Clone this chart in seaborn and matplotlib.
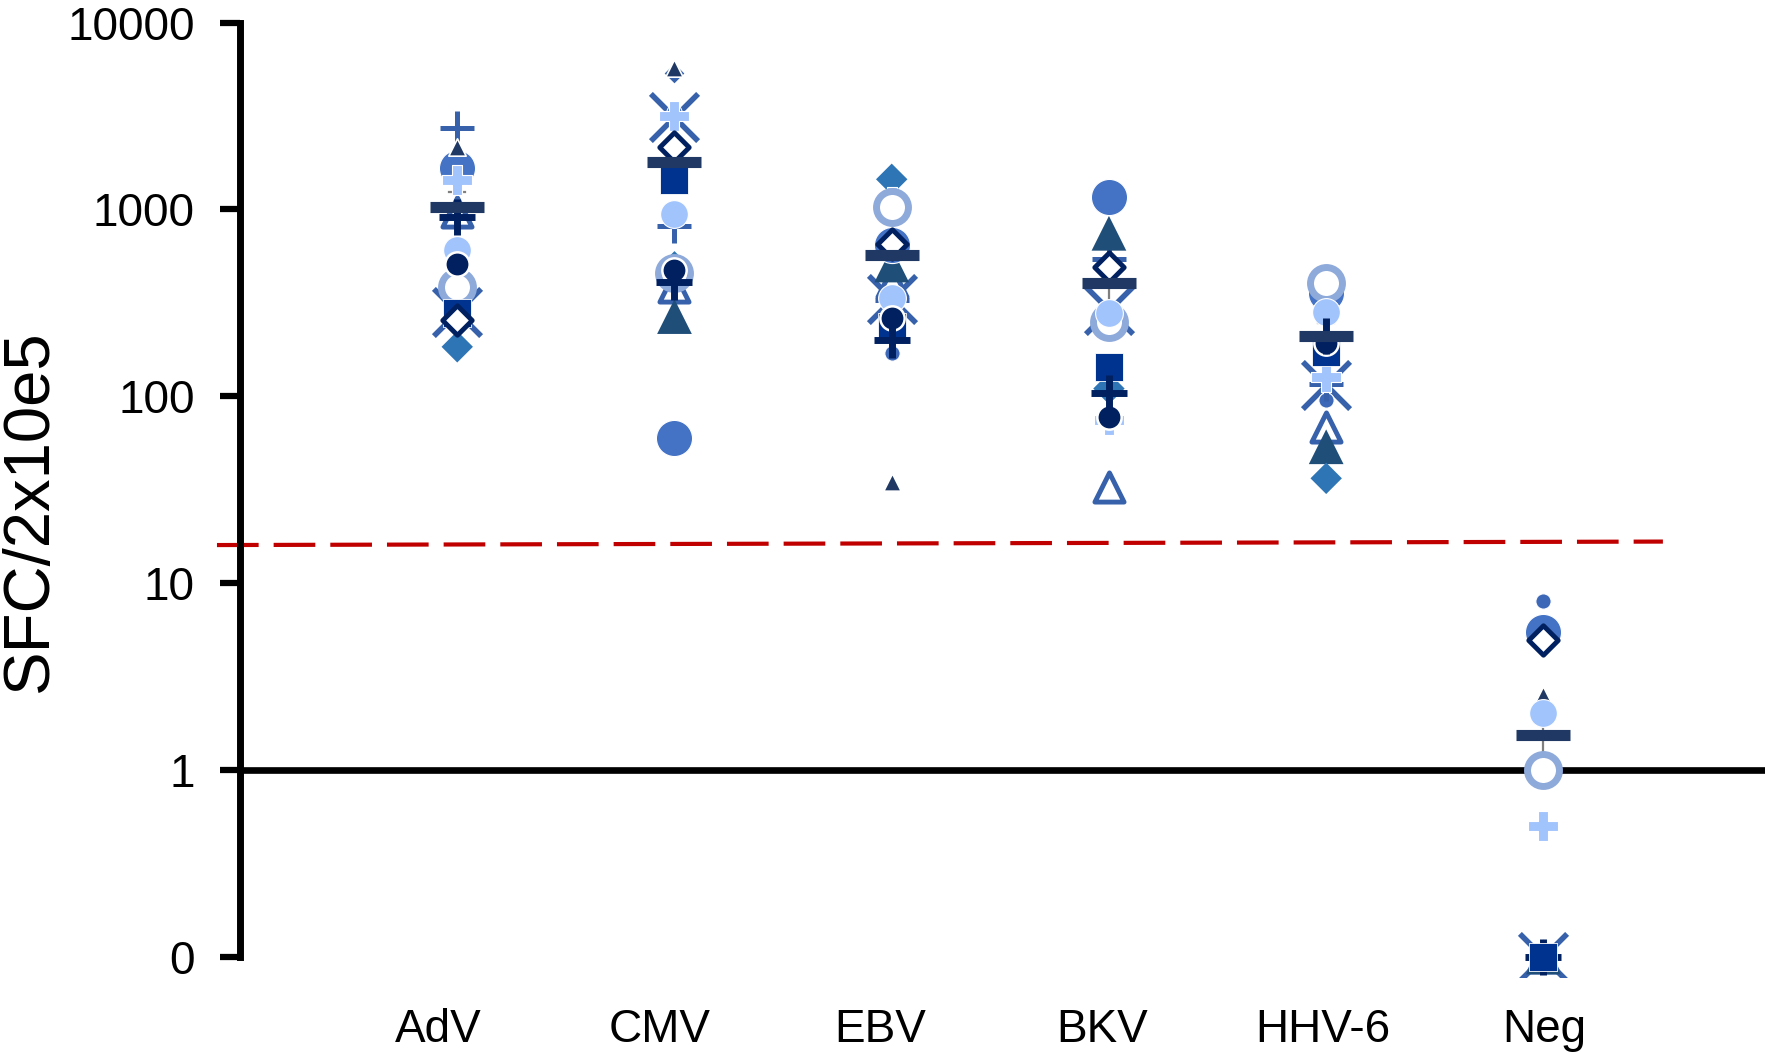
import numpy as np
import pandas as pd
import matplotlib
matplotlib.use("Agg")
import matplotlib.pyplot as plt
import seaborn as sns

# ---- data: ELISpot responses (SFC per 2x10^5 cells), one row per donor ----
viruses = ["AdV", "CMV", "EBV", "BKV", "HHV-6", "Neg"]
nan = np.nan

d_thin_plus     = [2735, 815, 328, 541, 116, 0]
d_small_tri     = [2160, 5690, 34.9, 480, 468, 2.52]
d_big_circle    = [1667, 59.6, 646, 1161, 356, 5.5]
d_light_plus    = [1436, 3160, 1100, 75, 127, 0.5]
d_dark_plus     = [915, 410, 200, 104, 210, 0]
d_light_circle  = [607, 942, 336, 278, 284, 2.01]
d_navy_circle   = [508, 474, 261, 77.8, 192, 0]
d_open_circle   = [385, 455, 1026, 251, 403, 1.0]
d_cross         = [284, 3105, 330, 290, 115, 0]
d_square        = [280, 1436, 235, 144, 173, 0]
d_open_diamond  = [256, 2150, 650, 493, nan, 4.97]
d_diamond       = [184, 493, 1449, 110, 36.4, 0]
d_big_tri       = [nan, 267, 504, 745, 53.7, 0]
d_open_tri      = [968, 385, 410, 32.8, 68.7, 0]
d_small_circle  = [1600, 3300, 170, 1161, 95.5, 8.05]
d_small_diamond = [1550, 5400, 1449, 490, 440, 0]

cutoff_ends = [16.0, 16.7]   # positivity threshold
ytick_vals = [0.1, 1, 10, 100, 1000, 10000]
ytick_labels = ["0", "1", "10", "100", "1000", "10000"]

# drawing order: first entry lies at the bottom
donors = [
    ("cross",         d_cross,         dict(marker="x", size=34, color="#3762ab", edgecolor="#3762ab", linewidth=4)),
    ("small_circle",  d_small_circle,  dict(marker="o", size=11, color="#3d68b8", edgecolor="white", linewidth=0.8)),
    ("thin_plus",     d_thin_plus,     dict(marker="+", size=25, color="#3762ab", edgecolor="#3762ab", linewidth=3.6)),
    ("open_tri",      d_open_tri,      dict(marker="^", size=21, color="white", edgecolor="#3762ab", linewidth=3.5)),
    ("big_tri",       d_big_tri,       dict(marker="^", size=25, color="#1f4e79", edgecolor="none", linewidth=0)),
    ("small_diamond", d_small_diamond, dict(marker="D", size=11, color="#3762ab", edgecolor="white", linewidth=1)),
    ("diamond",       d_diamond,       dict(marker="D", size=16, color="#2e75b6", edgecolor="none", linewidth=0)),
    ("big_circle",    d_big_circle,    dict(marker="o", size=26, color="#4472c4", edgecolor="white", linewidth=0.8)),
    ("small_tri",     d_small_tri,     dict(marker="^", size=12.5, color="#1f3864", edgecolor="white", linewidth=1.2)),
    ("light_plus",    d_light_plus,    dict(marker="P", size=21.5, color="#a2c4fc", edgecolor="white", linewidth=0.8)),
    ("open_circle",   d_open_circle,   dict(marker="o", size=23, color="white", edgecolor="#8eaadb", linewidth=5)),
    ("light_circle",  d_light_circle,  dict(marker="o", size=20, color="#a2c4fc", edgecolor="white", linewidth=0.8)),
    ("square",        d_square,        dict(marker="s", size=19.5, color="#003390", edgecolor="white", linewidth=0.6)),
    ("navy_circle",   d_navy_circle,   dict(marker="o", size=17.5, color="#002060", edgecolor="white", linewidth=1.8)),
    ("dark_plus",     d_dark_plus,     dict(marker="+", size=26.5, color="#002060", edgecolor="#002060", linewidth=5)),
    ("open_diamond",  d_open_diamond,  dict(marker="D", size=15, color="white", edgecolor="#002060", linewidth=3.5)),
]
# on the "0" row the filled square sits above every other symbol
zero_top = "square"

rows = []
for name, vals, _ in donors:
    for v, val in zip(viruses, vals):
        rows.append({"donor": name, "virus": v, "sfc": val})
df = pd.DataFrame(rows).dropna(subset=["sfc"])
# zero counts are shown on the "0" row of the log axis
df["shown"] = df["sfc"].where(df["sfc"] > 0, 0.1)

W, H = 1768, 1052
fig = plt.figure(figsize=(W / 100, H / 100), dpi=100)
# axes run a little below the "0" row so its symbols are not cut
ax = fig.add_axes([240 / W, (H - 977) / H, (1765 - 240) / W, (977 - 22.5) / H])

font = "Liberation Sans"

# SEM error bars (under the symbols)
n0 = len(ax.lines)
sns.pointplot(data=df, x="virus", y="sfc", order=viruses, estimator="mean",
              errorbar="se", color="#7f7f7f", marker="", linestyle="none",
              capsize=0.075, err_kws={"linewidth": 1.6}, ax=ax)
for ln in ax.lines[n0:]:
    ln.set_zorder(1.5)

# individual donors
for i, (name, vals, st) in enumerate(donors):
    sub = df[df["donor"] == name]
    pos = sub[sub["sfc"] > 0]
    zero = sub[sub["sfc"] == 0]
    if len(pos):
        sns.stripplot(data=pos, x="virus", y="shown", order=viruses, jitter=False,
                      ax=ax, zorder=3 + i * 0.01, **st)
    if len(zero):
        zz = 2.9 if name == zero_top else 2.5 + i * 0.01
        sns.stripplot(data=zero, x="virus", y="shown", order=viruses, jitter=False,
                      ax=ax, zorder=zz, **st)

# group means
n1 = len(ax.lines)
sns.pointplot(data=df, x="virus", y="sfc", order=viruses, estimator="mean",
              errorbar=None, color="#1f3864", marker="_", markersize=39,
              markeredgewidth=8, linestyle="none", ax=ax)
for ln in ax.lines[n1:]:
    ln.set_zorder(5)

ax.set_yscale("log")
ax.set_ylim(10 ** (-1 - 20 / 186.9), 10000)
ax.set_xlim(-1.0, 6.02)
ax.spines["left"].set_bounds(0.1, 10000)

# reference lines
ax.axhline(1, color="black", lw=4.8, zorder=2)
cut = ax.plot([-1.106, 5.55], cutoff_ends, color="#c00000", lw=3, zorder=2, clip_on=False)[0]
cut.set_dashes([10, 3.6])

# category labels sit on a slightly wider spacing than the symbol columns
ax.set_xticks([-0.088 + i * 1.0186 for i in range(len(viruses))])
ax.set_xticklabels(viruses)
ax.set_yticks(ytick_vals)
ax.set_yticklabels(ytick_labels)
ax.yaxis.set_minor_locator(matplotlib.ticker.NullLocator())
ax.tick_params(axis="y", length=14.5, width=4.5, pad=18, labelsize=33, direction="out")
ax.tick_params(axis="x", length=0, pad=22.6, labelsize=33)
for lab in ax.get_xticklabels() + ax.get_yticklabels():
    lab.set_fontfamily(font)

for s in ["top", "right", "bottom"]:
    ax.spines[s].set_visible(False)
ax.spines["left"].set_linewidth(5)
ax.set_xlabel("")
ax.set_ylabel("")
ax.patch.set_alpha(0)

fig.text(30 / W, 1 - 511 / H, "SFC/2x10e5", rotation=90, ha="center", va="center",
         fontsize=47, fontfamily=font)

fig.savefig("out.png", dpi=100)
